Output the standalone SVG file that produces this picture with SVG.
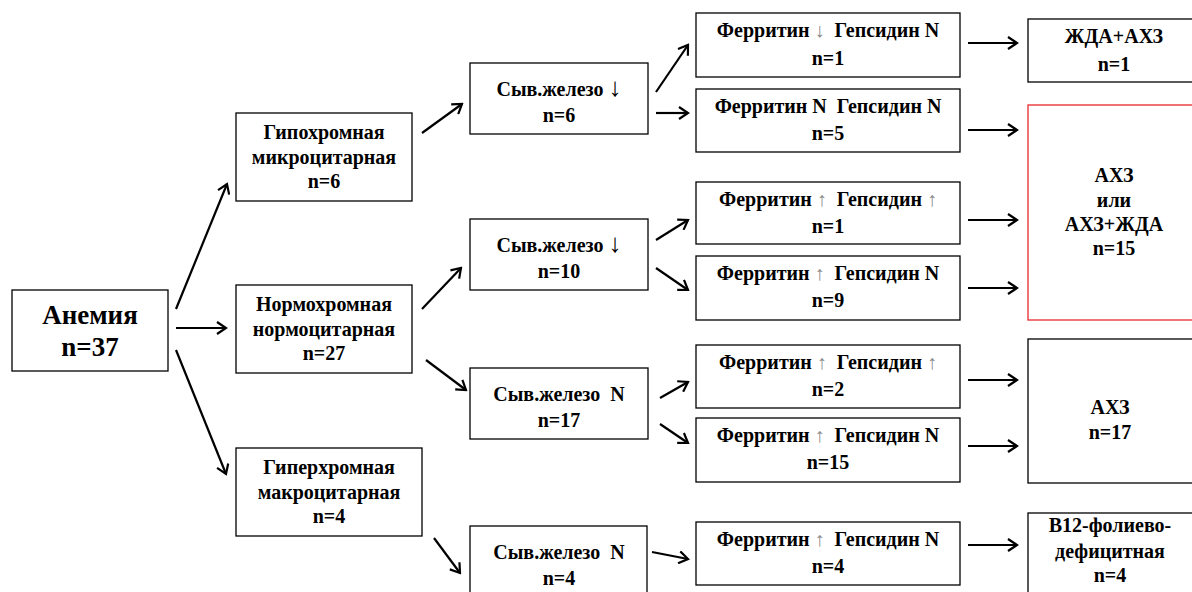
<svg xmlns="http://www.w3.org/2000/svg" width="1192" height="592" viewBox="0 0 1192 592">
<style>
.box{fill:#fff;stroke:#000;stroke-width:1.3}
.red{fill:#fff;stroke:#e8282d;stroke-width:1.3}
.ga{fill:#8a8a8a;font-weight:normal}
.da{font-weight:normal}
.c{stroke:#000;stroke-width:2.2;fill:none;marker-end:url(#ah)}
</style>
<defs>
<marker id="ah" viewBox="0 0 14 14" refX="12" refY="7" markerWidth="14" markerHeight="14" markerUnits="userSpaceOnUse" orient="auto">
<path d="M3,1 L12,7 L3,13" fill="none" stroke="#000" stroke-width="2.2"/>
</marker>
</defs>
<rect width="1192" height="592" fill="#fff"/>

<g id="connectors">
<line class="c" x1="176" y1="309" x2="227" y2="184"/>
<line class="c" x1="176" y1="328" x2="226" y2="328"/>
<line class="c" x1="176" y1="350" x2="226" y2="474"/>
<line class="c" x1="422" y1="133" x2="462" y2="104"/>
<line class="c" x1="422" y1="309" x2="461" y2="268"/>
<line class="c" x1="426" y1="360" x2="466" y2="390"/>
<line class="c" x1="434" y1="538" x2="460" y2="573"/>
<line class="c" x1="656" y1="92" x2="688" y2="45"/>
<line class="c" x1="656" y1="113" x2="688" y2="113"/>
<line class="c" x1="656" y1="240" x2="688" y2="220"/>
<line class="c" x1="656" y1="268" x2="688" y2="290"/>
<line class="c" x1="660" y1="398" x2="688" y2="382"/>
<line class="c" x1="660" y1="424" x2="688" y2="443"/>
<line class="c" x1="652" y1="552" x2="688" y2="559"/>
<line class="c" x1="968" y1="43" x2="1017" y2="43"/>
<line class="c" x1="968" y1="130" x2="1017" y2="130"/>
<line class="c" x1="968" y1="220" x2="1017" y2="220"/>
<line class="c" x1="968" y1="288" x2="1017" y2="288"/>
<line class="c" x1="968" y1="380" x2="1017" y2="380"/>
<line class="c" x1="968" y1="446" x2="1017" y2="446"/>
<line class="c" x1="968" y1="545" x2="1017" y2="545"/>
</g>

<g font-family="serif" font-weight="bold" font-size="20" text-anchor="middle" fill="#000">
<g id="anemia">
<rect class="box" x="12" y="290" width="156" height="81"/>
<text font-size="27" x="90" y="324">Анемия</text>
<text font-size="27" x="90" y="356">n=37</text>
</g>

<g id="hypo">
<rect class="box" x="236" y="113" width="176" height="88"/>
<text x="324" y="139">Гипохромная</text>
<text x="324" y="164">микроцитарная</text>
<text x="324" y="188">n=6</text>
</g>
<g id="normo">
<rect class="box" x="236" y="285" width="176" height="88"/>
<text x="324" y="311">Нормохромная</text>
<text x="324" y="336">нормоцитарная</text>
<text x="324" y="360">n=27</text>
</g>
<g id="hyper">
<rect class="box" x="236" y="448" width="186" height="88"/>
<text x="329" y="474">Гиперхромная</text>
<text x="329" y="499">макроцитарная</text>
<text x="329" y="523">n=4</text>
</g>

<g id="fe1">
<rect class="box" x="470" y="63" width="178" height="71"/>
<text x="559" y="96">Сыв.железо <tspan class="da" font-size="26">↓</tspan></text>
<text x="559" y="122">n=6</text>
</g>
<g id="fe2">
<rect class="box" x="470" y="219" width="178" height="71"/>
<text x="559" y="252">Сыв.железо <tspan class="da" font-size="26">↓</tspan></text>
<text x="559" y="278">n=10</text>
</g>
<g id="fe3">
<rect class="box" x="470" y="368" width="178" height="71"/>
<text x="559" y="401" xml:space="preserve">Сыв.железо  N</text>
<text x="559" y="427">n=17</text>
</g>
<g id="fe4">
<rect class="box" x="470" y="526" width="177" height="71"/>
<text x="559" y="559" xml:space="preserve">Сыв.железо  N</text>
<text x="559" y="585">n=4</text>
</g>

<g id="f1">
<rect class="box" x="696" y="13" width="264" height="64"/>
<text x="828" y="37" xml:space="preserve">Ферритин <tspan class="ga">↓</tspan>  Гепсидин N</text>
<text x="828" y="65">n=1</text>
</g>
<g id="f2">
<rect class="box" x="696" y="89" width="264" height="63"/>
<text x="828" y="113" xml:space="preserve">Ферритин N  Гепсидин N</text>
<text x="828" y="140">n=5</text>
</g>
<g id="f3">
<rect class="box" x="696" y="182" width="264" height="62"/>
<text x="828" y="206" xml:space="preserve">Ферритин <tspan class="ga">↑</tspan>  Гепсидин <tspan class="ga">↑</tspan></text>
<text x="828" y="233">n=1</text>
</g>
<g id="f4">
<rect class="box" x="696" y="256" width="264" height="64"/>
<text x="828" y="280" xml:space="preserve">Ферритин <tspan class="ga">↑</tspan>  Гепсидин N</text>
<text x="828" y="307">n=9</text>
</g>
<g id="f5">
<rect class="box" x="696" y="345" width="264" height="63"/>
<text x="828" y="369" xml:space="preserve">Ферритин <tspan class="ga">↑</tspan>  Гепсидин <tspan class="ga">↑</tspan></text>
<text x="828" y="396">n=2</text>
</g>
<g id="f6">
<rect class="box" x="696" y="418" width="264" height="64"/>
<text x="828" y="442" xml:space="preserve">Ферритин <tspan class="ga">↑</tspan>  Гепсидин N</text>
<text x="828" y="469">n=15</text>
</g>
<g id="f7">
<rect class="box" x="696" y="522" width="264" height="63"/>
<text x="828" y="546" xml:space="preserve">Ферритин <tspan class="ga">↑</tspan>  Гепсидин N</text>
<text x="828" y="573">n=4</text>
</g>

<g id="r1">
<rect class="box" x="1028" y="19" width="180" height="63"/>
<text x="1114" y="43">ЖДА+АХЗ</text>
<text x="1114" y="71">n=1</text>
</g>
<g id="r2">
<rect class="red" x="1028" y="105" width="180" height="215"/>
<text x="1114" y="182">АХЗ</text>
<text x="1114" y="207">или</text>
<text x="1114" y="231">АХЗ+ЖДА</text>
<text x="1114" y="255">n=15</text>
</g>
<g id="r3">
<rect class="box" x="1028" y="339" width="180" height="144"/>
<text x="1110" y="414">АХЗ</text>
<text x="1110" y="439">n=17</text>
</g>
<g id="r4">
<rect class="box" x="1028" y="513" width="180" height="100"/>
<text x="1110" y="532">B12-фолиево-</text>
<text x="1110" y="558">дефицитная</text>
<text x="1110" y="582">n=4</text>
</g>
</g>
</svg>
